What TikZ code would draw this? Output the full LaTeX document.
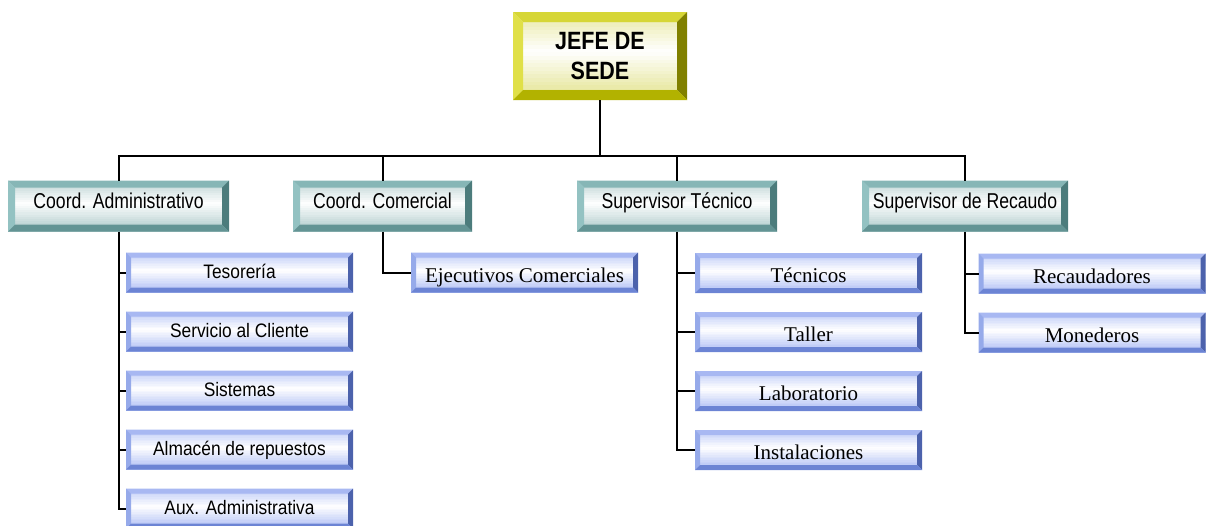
\documentclass[tikz,border=0pt]{standalone}
\usepackage{fontspec}
\usetikzlibrary{calc}
\setmainfont{Liberation Serif}
\newfontfamily\headfont{Liberation Sans}[FakeStretch=0.82]
\newfontfamily\unitfont{Liberation Sans}[FakeStretch=0.89]
\newfontfamily\chieffont{Liberation Sans}[FakeStretch=0.86]
\begin{document}
\tikzset{
  % generic bevelled box: a banded face (white in the middle) with four edge bands
  bevel/.style n args={7}{
    inner sep=0pt, outer sep=0pt, minimum width=#1,
    path picture={
      \def\bw{#2}
      \foreach \i in {0,...,23}{
        \pgfmathsetmacro\ta{\i/24}
        \pgfmathsetmacro\tb{min(1,(\i+1.3)/24)}
        \pgfmathsetmacro\pc{min(100,abs((\i+0.5)/24-0.45)/0.55*115)}
        \fill[#7!\pc!white]
          ($(path picture bounding box.north west)!\ta!(path picture bounding box.south west)$)
          rectangle ($(path picture bounding box.north east)!\tb!(path picture bounding box.south east)$);
      }
      \fill[#3] (path picture bounding box.north west) -- (path picture bounding box.north east)
        -- ([shift={(-\bw,-\bw)}]path picture bounding box.north east)
        -- ([shift={(\bw,-\bw)}]path picture bounding box.north west) -- cycle;
      \fill[#4] (path picture bounding box.north west) -- (path picture bounding box.south west)
        -- ([shift={(\bw,\bw)}]path picture bounding box.south west)
        -- ([shift={(\bw,-\bw)}]path picture bounding box.north west) -- cycle;
      \fill[#5] (path picture bounding box.north east) -- (path picture bounding box.south east)
        -- ([shift={(-\bw,\bw)}]path picture bounding box.south east)
        -- ([shift={(-\bw,-\bw)}]path picture bounding box.north east) -- cycle;
      \fill[#6] (path picture bounding box.south west) -- (path picture bounding box.south east)
        -- ([shift={(-\bw,\bw)}]path picture bounding box.south east)
        -- ([shift={(\bw,\bw)}]path picture bounding box.south west) -- cycle;
    }},
  chief/.style={bevel={174pt}{10pt}{yTop}{yLeft}{yRight}{yBot}{yFace},
    minimum height=88pt, font=\chieffont\bfseries\fontsize{25}{30}\selectfont, align=center},
  coord/.style={bevel={#1}{7pt}{tTop}{tLeft}{tRight}{tBot}{tFace},
    minimum height=51pt, text height=5.6pt, text depth=0pt,
    font=\headfont\fontsize{21.5}{24}\selectfont},
  unitS/.style={bevel={227pt}{5pt}{bTop}{bLeft}{bRight}{bBot}{bFace},
    minimum height=40pt, text height=12.4pt, text depth=0pt,
    font=\unitfont\fontsize{19.5}{22}\selectfont},
  unitR/.style={bevel={227pt}{5pt}{bTop}{bLeft}{bRight}{bBot}{bFace},
    minimum height=40pt, text height=19pt, text depth=0pt,
    font=\rmfamily\fontsize{21}{24}\selectfont},
  link/.style={line width=2pt, draw=black},
}
\definecolor{yTop}{HTML}{D6D636}
\definecolor{yLeft}{HTML}{E0E048}
\definecolor{yRight}{HTML}{808000}
\definecolor{yBot}{HTML}{B2B200}
\definecolor{yFace}{HTML}{E6E69A}
\definecolor{tTop}{HTML}{86B6B6}
\definecolor{tLeft}{HTML}{93C2C2}
\definecolor{tRight}{HTML}{4C7C7C}
\definecolor{tBot}{HTML}{639494}
\definecolor{tFace}{HTML}{B4CECE}
\definecolor{bTop}{HTML}{A8B8F2}
\definecolor{bLeft}{HTML}{96AAEA}
\definecolor{bRight}{HTML}{4C62AC}
\definecolor{bBot}{HTML}{6C84D4}
\definecolor{bFace}{HTML}{B6C4F6}
\begin{tikzpicture}[x=1pt,y=-1pt]
\useasboundingbox (0,0) rectangle (1209,525);
\clip (0,0) rectangle (1209,525);

% ---- nodes ----
\node[chief] (jefe) at (600,56) {JEFE DE\\SEDE};

\node[coord={221pt}] (adm) at (118.5,206) {Coord. Administrativo};
\node[coord={179pt}] (com) at (382.5,206) {Coord. Comercial};
\node[coord={200pt}] (tec) at (677,206) {Supervisor Técnico};
\node[coord={206pt}] (rec) at (965,206) {Supervisor de Recaudo};

\node[unitS] (tes) at (239.5,272.5) {Tesorería};
\node[unitS] (cli) at (239.5,331.5) {Servicio al Cliente};
\node[unitS] (sis) at (239.5,390.5) {Sistemas};
\node[unitS] (alm) at (239.5,449.5) {Almacén de repuestos};
\node[unitS] (aux) at (239.5,508.5) {Aux. Administrativa};

\node[unitR] (eje) at (524.5,272.5) {Ejecutivos Comerciales};

\node[unitR] (tcs) at (808.5,273) {Técnicos};
\node[unitR] (tal) at (808.5,332) {Taller};
\node[unitR] (lab) at (808.5,391) {Laboratorio};
\node[unitR] (ins) at (808.5,450) {Instalaciones};

\node[unitR] (rcd) at (1092,273.5) {Recaudadores};
\node[unitR] (mon) at (1092,332.5) {Monederos};

% ---- connectors ----
\coordinate (bus) at (600,156);
\draw[link] (jefe.south) -- (bus);
\draw[link] (adm.north) |- (bus) -| (rec.north);
\draw[link] (com.north) -- (com.north |- bus);
\draw[link] (tec.north) -- (tec.north |- bus);

\draw[link] (adm.south) |- (aux.west);
\foreach \n in {tes,cli,sis,alm} \draw[link] (adm.south |- \n.west) -- (\n.west);
\draw[link] (com.south) |- (eje.west);
\draw[link] (tec.south) |- (ins.west);
\foreach \n in {tcs,tal,lab} \draw[link] (tec.south |- \n.west) -- (\n.west);
\draw[link] (rec.south) |- (mon.west);
\draw[link] (rec.south |- rcd.west) -- (rcd.west);
\end{tikzpicture}
\end{document}
